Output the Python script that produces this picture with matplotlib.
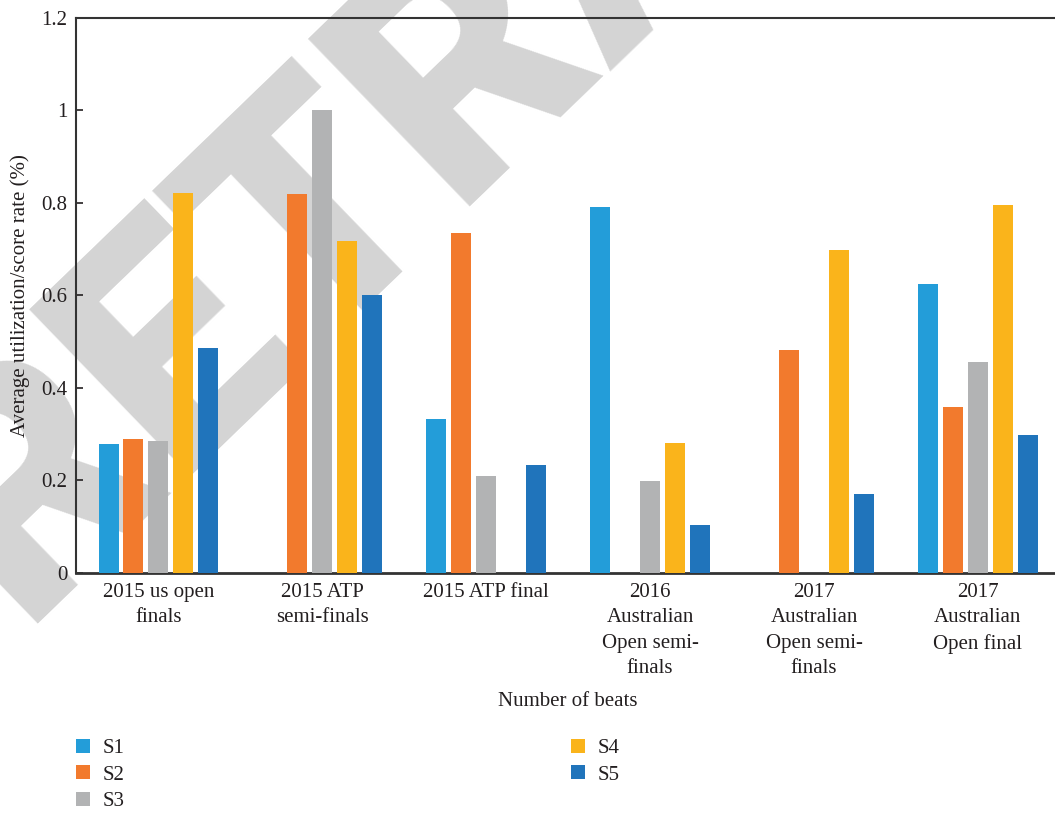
import numpy as np
import matplotlib
matplotlib.use("Agg")
import matplotlib.pyplot as plt

categories = [
    "2015 us open\nfinals",
    "2015 ATP\nsemi-finals",
    "2015 ATP final",
    "2016\nAustralian\nOpen semi-\nfinals",
    "2017\nAustralian\nOpen semi-\nfinals",
    "2017\nAustralian\nOpen final",
]
series_names = ["S1", "S2", "S3", "S4", "S5"]
s1 = [0.279, 0.0, 0.333, 0.791, 0.0, 0.625]
s2 = [0.290, 0.820, 0.735, 0.0, 0.482, 0.359]
s3 = [0.285, 1.000, 0.210, 0.199, 0.0, 0.456]
s4 = [0.822, 0.718, 0.0, 0.281, 0.698, 0.796]
s5 = [0.487, 0.600, 0.234, 0.104, 0.171, 0.298]
colors = ["#239dd9", "#f27a2d", "#b2b3b4", "#fab41b", "#2074bb"]

plt.rcParams["font.family"] = ["Liberation Serif", "DejaVu Serif"]
txt_color = "#231f20"

fig = plt.figure(figsize=(10.55, 8.13), dpi=100)
ax = fig.add_axes([0.072, 0.2952, 0.928, 0.6827])
ax.patch.set_alpha(0)

# big diagonal stamp behind the plot
fig.text(0.5915, 1.103, "RETRACTED", fontsize=235, fontweight="black",
         family="Roboto", color="#d4d4d4", rotation=44,
         ha="center", va="center", rotation_mode="anchor", zorder=-5)

x = np.arange(len(categories))
step = 0.152
width = 0.122
for i, (vals, name) in enumerate(zip([s1, s2, s3, s4, s5], series_names)):
    ax.bar(x + (i - 2) * step, vals, width, color=colors[i], label=name, zorder=3)

ax.set_xlim(-0.503, 5.47)
ax.set_ylim(0, 1.2)
ax.set_yticks([0, 0.2, 0.4, 0.6, 0.8, 1.0, 1.2])
ax.set_yticklabels(["0", "0.2", "0.4", "0.6", "0.8", "1", "1.2"])
ax.set_xticks(x)
ax.set_xticklabels(categories, linespacing=1.46)
ax.tick_params(axis="x", length=0, pad=7, labelsize=15, colors=txt_color)
ax.tick_params(axis="y", length=5, width=1.2, direction="in", labelsize=15,
               colors=txt_color, pad=6)

for side in ["left", "bottom", "top"]:
    ax.spines[side].set_color("#333333")
    ax.spines[side].set_linewidth(1.5)
ax.spines["bottom"].set_linewidth(2)
ax.spines["right"].set_visible(False)

ax.set_ylabel("Average utilization/score rate (%)", fontsize=15, color=txt_color)
ax.yaxis.set_label_coords(-0.047, 0.5)
ax.set_xlabel("Number of beats", fontsize=15, color=txt_color)
ax.xaxis.set_label_coords(0.5026, -0.214)

leg = fig.legend(loc="upper left", bbox_to_anchor=(0.072, 0.091), ncol=2,
                 frameon=False, fontsize=15, handlelength=0.67, handleheight=0.67,
                 handletextpad=0.62, labelspacing=0.33, columnspacing=21.4,
                 borderpad=0, borderaxespad=0)
for t in leg.get_texts():
    t.set_color(txt_color)

fig.savefig("out.png", dpi=100)
